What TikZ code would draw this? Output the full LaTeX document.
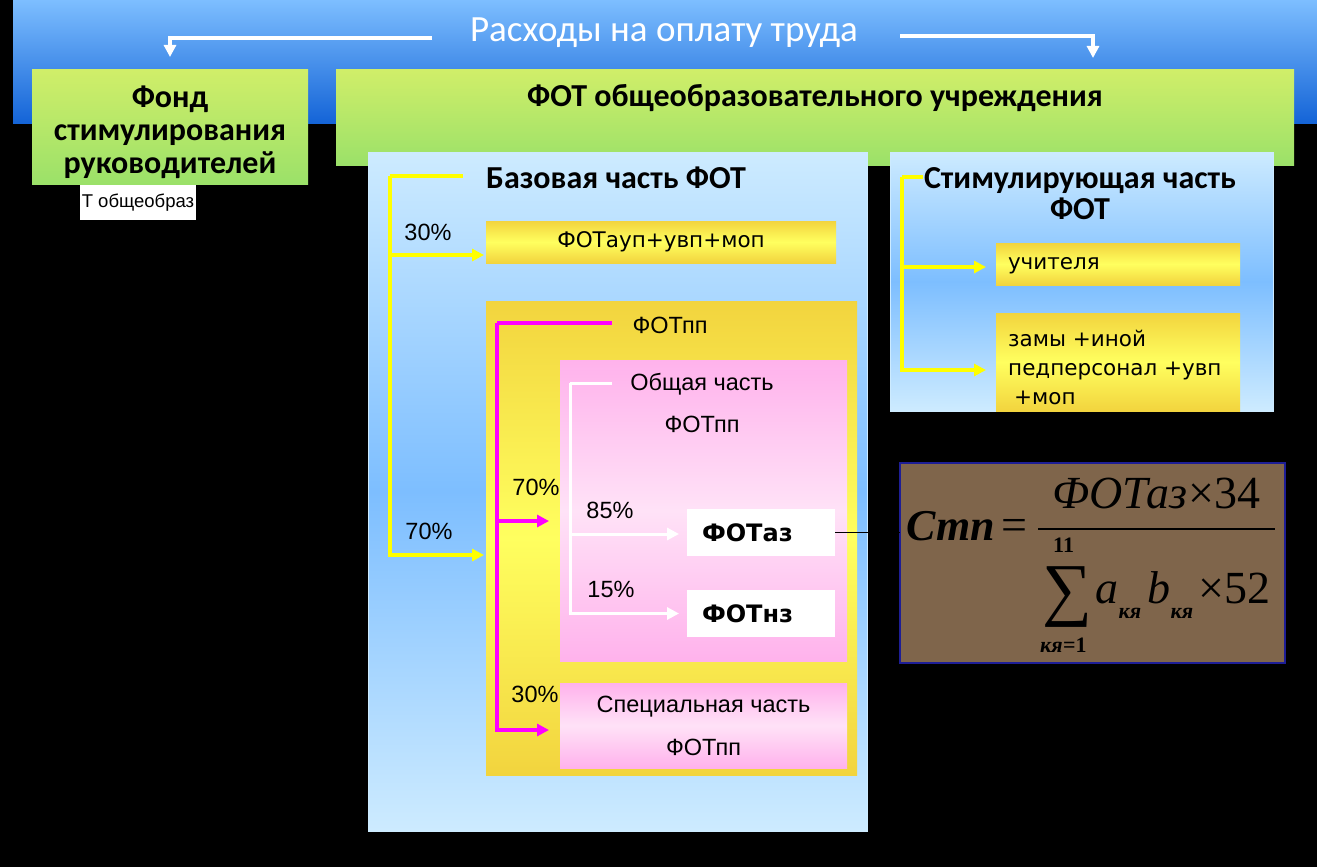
\documentclass[tikz,border=0pt]{standalone}
\usepackage{fontspec}
\setmainfont{Carlito}
\newfontfamily\verd{DejaVu Sans}
\newfontfamily\tah{Liberation Sans}
\newfontfamily\tnr{Liberation Serif}
\usetikzlibrary{arrows.meta,positioning}
\definecolor{bandtop}{RGB}{125,190,255}
\definecolor{bandbot}{RGB}{20,100,215}
\definecolor{greentop}{RGB}{208,238,105}
\definecolor{greenbot}{RGB}{155,225,105}
\definecolor{bluelt}{RGB}{205,235,255}
\definecolor{bluemid}{RGB}{125,190,255}
\definecolor{goldf}{RGB}{242,212,62}
\definecolor{yellowlt}{RGB}{255,255,95}
\definecolor{pinkd}{RGB}{255,178,236}
\definecolor{pinklt}{RGB}{255,226,247}
\definecolor{brownf}{RGB}{127,101,75}
\definecolor{navyf}{RGB}{30,30,150}
\definecolor{yline}{RGB}{255,255,0}
\definecolor{mline}{RGB}{255,0,255}

\begin{document}
\begin{tikzpicture}[x=1pt, y=-1pt, >={Triangle[length=12pt,width=12pt]},
	box/.style={anchor=north west, inner sep=0pt, outer sep=0pt},
	greenbox/.style={box, top color=greentop, bottom color=greenbot},
	bluebox/.style={box, draw=bluelt, line width=1pt, top color=bluelt, bottom color=bluelt, middle color=bluemid},
	goldbox/.style={box, top color=goldf, bottom color=goldf, middle color=yellowlt},
	pinkbox/.style={box, top color=pinkd, bottom color=pinkd, middle color=pinklt},
	whitebox/.style={box, fill=white},
	head/.style={font=\bfseries\fontsize{32}{33}\selectfont, align=center},
	small/.style={font=\tah\fontsize{23.5}{26}\selectfont, inner sep=0pt},
	vtext/.style={font=\verd\fontsize{21.5}{29}\selectfont, align=left},
	warrow/.style={->, white, line width=4pt},
	yarrow/.style={yline, line width=4pt},
	parrow/.style={mline, line width=4pt},
	wline/.style={white, line width=3pt},
	ftxt/.style={anchor=base west, inner sep=0pt, font=\tnr\itshape\fontsize{46}{46}\selectfont},
	fnum/.style={anchor=base west, inner sep=0pt, font=\tnr\fontsize{46}{46}\selectfont},
	ftxts/.style={ftxt, font=\tnr\bfseries\itshape\fontsize{22}{22}\selectfont},
	fnums/.style={fnum, font=\tnr\bfseries\fontsize{22}{22}\selectfont}
	]
\useasboundingbox[fill=black] (0,0) rectangle (1317,867);
% top band
\node[box, minimum width=1304pt, minimum height=123pt, top color=bandtop, bottom color=bandbot] (band) at (13,0) {};
\node[font=\fontsize{37}{40}\selectfont, text=white] (title) at (664,33) {Расходы на оплату труда};
\coordinate (la) at (432,38);
\coordinate (ra) at (900,36);
\coordinate (rb) at (1093,58);
% green boxes
\node[greenbox, minimum width=958pt, minimum height=95pt] (fot) at (336,70) {};
\node[head] (fottitle) at (815,98) {ФОТ общеобразовательного учреждения};
\node[greenbox, minimum width=276pt, minimum height=114pt] (fond) at (32,70) {};
\node[head] (fondtitle) at (170,132) {Фонд\\стимулирования\\руководителей};
\node[whitebox, minimum width=116pt, minimum height=35pt, font=\tah\fontsize{18.5}{19}\selectfont] (stub) at (80,185) {Т общеобраз};
\draw[warrow, shorten >=13pt] (la) -| (fond.north);
\draw[warrow] (ra) -| (rb);
% base part
\node[bluebox, minimum width=499pt, minimum height=679pt] (base) at (368,152) {};
\node[head] (basetitle) at (616,178) {Базовая часть ФОТ};
\node[goldbox, vtext, minimum width=350pt, minimum height=42pt] (aup) at (486,221) {ФОТауп+увп+моп};
\node[goldbox, minimum width=371pt, minimum height=474pt] (pp) at (486,301) {};
\node[small] (pptitle) at (670,325) {ФОТпп};
\node[pinkbox, minimum width=287pt, minimum height=301pt] (obsh) at (560,360) {};
\node[small, align=center, font=\tah\fontsize{23.5}{42}\selectfont] (obtitle) at (702,403) {Общая часть\\ФОТпп};
\node[whitebox, minimum width=148pt, minimum height=47pt, text width=118pt, inner xsep=15pt, align=left, font=\verd\bfseries\fontsize{24}{26}\selectfont] (az) at (687,509) {ФОТаз};
\node[whitebox, minimum width=148pt, minimum height=47pt, text width=118pt, inner xsep=15pt, align=left, font=\verd\bfseries\fontsize{24}{26}\selectfont] (nz) at (687,590) {ФОТнз};
\node[pinkbox, minimum width=287pt, minimum height=85pt, align=center, font=\tah\fontsize{23.5}{43}\selectfont] (spec) at (560,683) {Специальная часть\\ФОТпп};
% stimulating part
\node[bluebox, minimum width=383pt, minimum height=259pt] (stim) at (890,152) {};
\node[head, font=\bfseries\fontsize{32}{31}\selectfont] (stimtitle) at (1080,194) {Стимулирующая часть\\ФОТ};
\node[goldbox, vtext, minimum width=244pt, minimum height=42pt, text width=220pt, inner xsep=12pt, text depth=2pt] (uch) at (996,243) {учителя};
\node[goldbox, minimum width=244pt, minimum height=98pt] (zam) at (996,313) {};
\node[vtext, anchor=west, inner sep=0pt] (zamtext) at (1008,367) {замы +иной\\педперсонал +увп\\\hspace{6pt}+моп};
% percents
\node[small] (p30) at (428,232) {30\%};
\node[small] (p70) at (429,531) {70\%};
\node[small] (m70) at (536,487) {70\%};
\node[small] (w85) at (610,510) {85\%};
\node[small] (w15) at (611,589) {15\%};
\node[small] (m30) at (535,694) {30\%};
% connectors
\coordinate (yb0) at (463,176);
\coordinate (yb) at (390,176);
\draw[yarrow] (yb0) -- (yb);
\draw[yarrow, ->, shorten >=2pt] (yb) |- ([yshift=-13pt]aup.west);
\draw[yarrow, ->, shorten >=2pt] (yb) |- ([yshift=-17pt]pp.west);
\coordinate (mp0) at (612,323);
\coordinate (mp) at (497,323);
\draw[parrow] (mp0) -- (mp);
\draw[parrow, ->, shorten >=11pt] (mp) |- ([yshift=-10.5pt]obsh.west);
\draw[parrow, ->, shorten >=11pt] (mp) |- ([yshift=-4.5pt]spec.west);
\coordinate (wo0) at (612,383);
\coordinate (wo) at (570,383);
\draw[wline] (wo0) -- (wo);
\draw[wline, ->, shorten >=8pt] (wo) |- ([yshift=-1.5pt]az.west);
\draw[wline, ->, shorten >=8pt] (wo) |- (nz.west);
\coordinate (ys0) at (923,177);
\coordinate (ys) at (902,177);
\draw[yarrow] (ys0) -- (ys);
\draw[yarrow, ->, shorten >=10pt] (ys) |- ([yshift=-3pt]uch.west);
\draw[yarrow, ->, shorten >=10pt] (ys) |- ([yshift=-8pt]zam.west);
% formula
\node[box, fill=brownf, draw=navyf, line width=2pt, minimum width=385pt, minimum height=200pt] (fml) at (900,463) {};
\draw[black, thin] (az.east) -- (az.east -| fml.west);
\node[ftxt, font=\tnr\bfseries\itshape\fontsize{44}{44}\selectfont] (fstp) at (906,540) {Стп};
\node[fnum] (feq) at (1001,540) {=};
\coordinate (bar0) at (1038,529);
\coordinate (bar1) at (1275,529);
\draw[black, line width=1.5pt] (bar0) -- (bar1);
\node[ftxt] (ffot) at (1052,508) {ФОТаз};
\node[fnum] (fx34) at (ffot.base east) {×34};
\node[fnums] (f11) at (1053,552) {11};
\node[anchor=base, inner sep=0pt, text height=46pt, text depth=0pt, font=\tnr\fontsize{70}{70}\selectfont] (fsum) at (1067,612) {∑};
\node[ftxts] (fkl) at (1040,652) {кя};
\node[fnums] (fk1) at (fkl.base east) {=1};
\node[ftxt] (fa) at (1095,603) {a};
\node[ftxts, yshift=-15pt] (fak) at (fa.base east) {кя};
\node[ftxt] (fb) at (1147,603) {b};
\node[ftxts, yshift=-15pt] (fbk) at (fb.base east) {кя};
\node[fnum] (fx52) at (1198,603) {×52};
\end{tikzpicture}
\end{document}
